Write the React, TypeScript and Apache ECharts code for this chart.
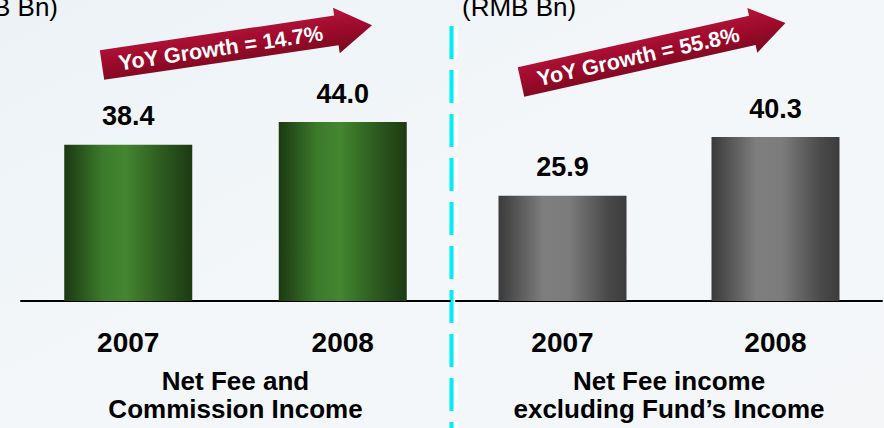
import React, { useEffect, useRef } from "react";
import * as echarts from "echarts";

const years = ["2007", "2008"];
const feeCommission = [38.4, 44.0];
const feeExFund = [25.9, 40.3];
const leftTitle = "Net Fee and\nCommission Income";
const rightTitle = "Net Fee income\nexcluding Fund\u2019s Income";
const unitLabel = "(RMB Bn)";
const leftGrowth = "YoY Growth = 14.7%";
const rightGrowth = "YoY Growth = 55.8%";

const FONT = "'Liberation Sans', Arial, sans-serif";

function barGrad(stops: [number, string][]) {
  return new echarts.graphic.LinearGradient(
    0, 0, 1, 0,
    stops.map(([offset, color]) => ({ offset, color }))
  );
}

function arrow(x: number, y: number, angleDeg: number, len: number, headLen: number, text: string) {
  const body = len - headLen;
  return {
    type: "group",
    x,
    y,
    rotation: (angleDeg * Math.PI) / 180,
    children: [
      {
        type: "polygon",
        shape: {
          points: [
            [0, -15], [body, -15], [body, -23], [len, 0], [body, 23], [body, 15], [0, 15],
          ],
        },
        style: {
          fill: new echarts.graphic.LinearGradient(0, 0, 0, 1, [
            { offset: 0, color: "#B3173C" },
            { offset: 0.45, color: "#A00A2C" },
            { offset: 1, color: "#760A1F" },
          ]),
        },
      },
      {
        type: "text",
        x: 120,
        y: 1,
        style: {
          text,
          fill: "#FFFFFF",
          font: `bold 21.5px ${FONT}`,
          align: "center",
          verticalAlign: "middle",
          textAlign: "center",
          textVerticalAlign: "middle",
        },
      },
    ],
  };
}

export default function App() {
  const ref = useRef<HTMLDivElement>(null);

  useEffect(() => {
    if (!ref.current) return;
    const chart = echarts.init(ref.current, null, { renderer: "svg" });

    const greenGrad = barGrad([
      [0, "#1C3912"],
      [0.3, "#3C7A2C"],
      [0.48, "#438630"],
      [0.75, "#2E5C20"],
      [1, "#1D3A13"],
    ]);
    const grayGrad = barGrad([
      [0, "#3A3A3A"],
      [0.35, "#7E7E7E"],
      [0.55, "#7C7C7C"],
      [0.85, "#4A4A4A"],
      [1, "#3C3C3C"],
    ]);

    const xAxisCommon = {
      type: "category" as const,
      data: years,
      axisLine: { show: true, lineStyle: { color: "#000", width: 2 } },
      axisTick: { show: false },
      axisLabel: {
        margin: 27,
        color: "#000",
        fontFamily: FONT,
        fontWeight: "bold" as const,
        fontSize: 28,
        lineHeight: 28,
      },
      nameLocation: "middle" as const,
      nameGap: 66,
      nameTextStyle: {
        color: "#000",
        fontFamily: FONT,
        fontWeight: "bold" as const,
        fontSize: 26,
        lineHeight: 28,
      },
    };

    const labelCommon = {
      show: true,
      position: "top" as const,
      distance: 15,
      color: "#000",
      fontFamily: FONT,
      fontWeight: "bold" as const,
      fontSize: 27,
      formatter: (p: any) => Number(p.value).toFixed(1),
    };

    chart.setOption({
      animation: false,
      backgroundColor: "transparent",
      grid: [
        { left: 21, width: 429, top: 57, height: 249 },
        { left: 456, width: 426, top: 57, height: 249 },
      ],
      xAxis: [
        { ...xAxisCommon, gridIndex: 0, name: leftTitle },
        { ...xAxisCommon, gridIndex: 1, name: rightTitle },
      ],
      yAxis: [
        { type: "value", gridIndex: 0, min: 0, max: 60, show: false, splitLine: { show: false } },
        { type: "value", gridIndex: 1, min: 0, max: 60, show: false, splitLine: { show: false } },
      ],
      series: [
        {
          type: "bar",
          xAxisIndex: 0,
          yAxisIndex: 0,
          data: feeCommission,
          barWidth: 128,
          itemStyle: { color: greenGrad },
          label: labelCommon,
        },
        {
          type: "bar",
          xAxisIndex: 1,
          yAxisIndex: 1,
          data: feeExFund,
          barWidth: 128,
          itemStyle: { color: grayGrad },
          label: labelCommon,
        },
      ],
      graphic: [
        {
          type: "rect",
          z: -10,
          shape: { x: 0, y: 0, width: 884, height: 428 },
          style: {
            fill: new echarts.graphic.LinearGradient(0, 0, 1, 1, [
              { offset: 0, color: "#EDF2F6" },
              { offset: 0.5, color: "#F3F7FA" },
              { offset: 1, color: "#F4F6F8" },
            ]),
          },
          silent: true,
        },
        {
          type: "line",
          shape: { x1: 456, y1: 26, x2: 456, y2: 428 },
          style: { stroke: "#FFFFFF", lineWidth: 4, lineDash: [33, 11] },
          silent: true,
        },
        {
          type: "line",
          shape: { x1: 451.5, y1: 26, x2: 451.5, y2: 428 },
          style: { stroke: "#00EEF5", lineWidth: 4, lineDash: [33, 11] },
          silent: true,
        },
        {
          type: "text",
          x: 58,
          y: 7,
          style: {
            text: unitLabel,
            fill: "#000",
            font: `26px ${FONT}`,
            align: "right",
            verticalAlign: "middle",
            textAlign: "right",
            textVerticalAlign: "middle",
          },
        },
        {
          type: "text",
          x: 462,
          y: 7,
          style: {
            text: unitLabel,
            fill: "#000",
            font: `26px ${FONT}`,
            align: "left",
            verticalAlign: "middle",
            textAlign: "left",
            textVerticalAlign: "middle",
          },
        },
        arrow(102, 65, 8.4, 273, 36, leftGrowth),
        arrow(521, 82, 12.6, 271, 34, rightGrowth),
      ],
    });

    return () => chart.dispose();
  }, []);

  return <div ref={ref} style={{ width: 884, height: 428, position: "absolute", left: 0, top: 0 }} />;
}
